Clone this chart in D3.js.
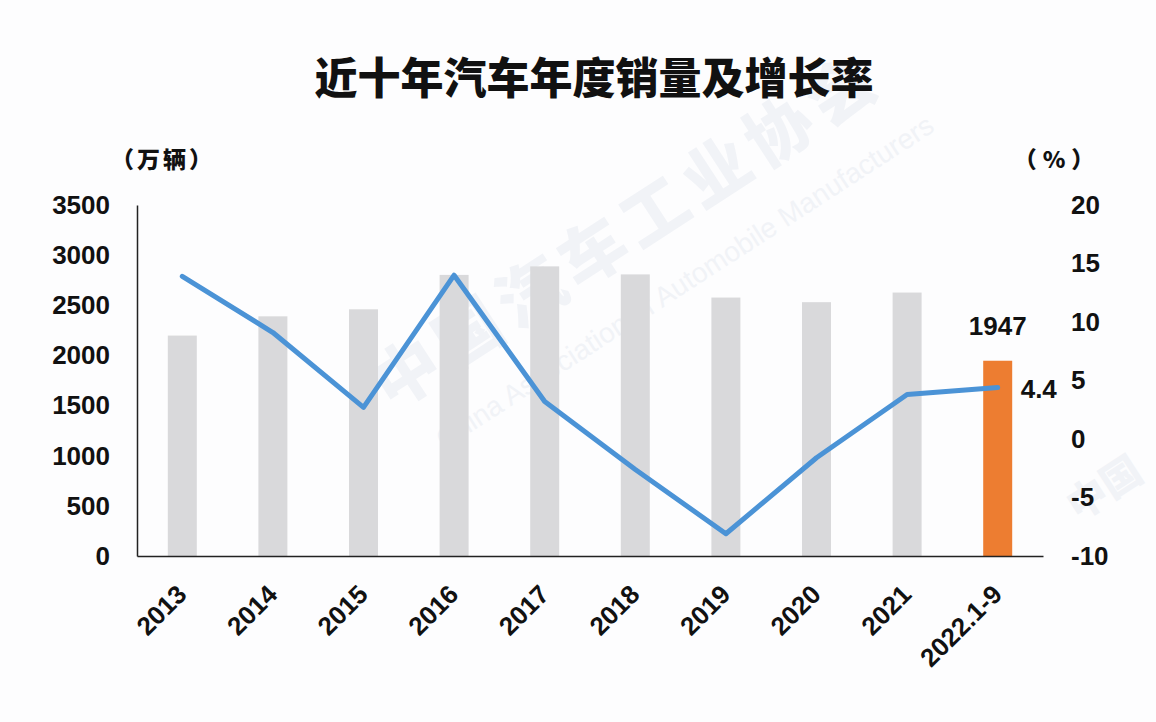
<!DOCTYPE html>
<html>
<head>
<meta charset="utf-8">
<script src="https://cdn.jsdelivr.net/npm/d3@7"></script>
<style>
  html, body { margin: 0; padding: 0; background: #fdfdfe; }
  svg { display: block; }
</style>
</head>
<body>
<svg id="chart" width="1156" height="722"></svg>
<script>
// ---- data ----
const categories = ["2013", "2014", "2015", "2016", "2017", "2018", "2019", "2020", "2021", "2022.1-9"];
const sales = [2198, 2390, 2460, 2803, 2888, 2808, 2577, 2531, 2627, 1947];   // 万辆
const growth = [13.9, 9.1, 2.7, 14.0, 3.2, -2.6, -8.1, -1.6, 3.8, 4.4];       // %
const leftTicks = [0, 500, 1000, 1500, 2000, 2500, 3000, 3500];
const rightTicks = [-10, -5, 0, 5, 10, 15, 20];
const title = "近十年汽车年度销量及增长率";
const leftUnit = "（万辆）";
const rightUnit = "（%）";
const highlightLabel = "1947";
const growthLabel = "4.4";

// ---- layout ----
const svg = d3.select("#chart");
const plot = { left: 137, right: 1043, top: 205, bottom: 556 };
const fontNum = "'Liberation Sans', Arial, sans-serif";
const fontCJK = "'Noto Sans CJK SC', sans-serif";

const x = d3.scaleBand().domain(categories).range([plot.left, plot.right]).paddingInner(0.68).paddingOuter(0.34);
const yL = d3.scaleLinear().domain([0, 3500]).range([plot.bottom, plot.top]);
const yR = d3.scaleLinear().domain([-10, 20]).range([plot.bottom, plot.top]);
const plain = d => String(d);

// ---- watermark (faint) ----
const wm = svg.append("g").attr("fill", "#f1f3f7").attr("font-family", fontCJK).attr("font-weight", 900);
wm.append("text").attr("transform", "translate(640,250) rotate(-33)").attr("text-anchor", "middle")
  .attr("font-size", 66).attr("letter-spacing", 8).text("中国汽车工业协会");
wm.append("text").attr("transform", "translate(690,290) rotate(-33)").attr("text-anchor", "middle")
  .attr("font-family", fontNum).attr("font-weight", 400)
  .attr("font-size", 28).text("China Association of Automobile Manufacturers");
wm.append("text").attr("transform", "translate(1112,500) rotate(-33)").attr("text-anchor", "middle")
  .attr("font-size", 40).text("中国");

// ---- bars ----
svg.append("g").selectAll("rect").data(categories).join("rect")
  .attr("x", d => x(d))
  .attr("width", x.bandwidth())
  .attr("y", (d, i) => yL(sales[i]))
  .attr("height", (d, i) => yL(0) - yL(sales[i]))
  .attr("fill", (d, i) => i === categories.length - 1 ? "#ed7d31" : "#d9d9db");

// ---- axes ----
const axisL = d3.axisLeft(yL).tickValues(leftTicks).tickFormat(plain).tickSize(0).tickPadding(0);
const gL = svg.append("g").attr("transform", `translate(${plot.left},0)`).call(axisL);
gL.select(".domain").attr("stroke", "#222").attr("stroke-width", 1.5);
gL.selectAll("text").attr("x", 110 - plot.left).attr("text-anchor", "end")
  .attr("font-family", fontNum).attr("font-weight", "bold").attr("font-size", 26).attr("fill", "#111");

const axisR = d3.axisRight(yR).tickValues(rightTicks).tickFormat(plain).tickSize(0).tickPadding(0);
const gR = svg.append("g").attr("transform", `translate(${plot.right},0)`).call(axisR);
gR.select(".domain").remove();
gR.selectAll("text").attr("x", 1071 - plot.right).attr("text-anchor", "start")
  .attr("font-family", fontNum).attr("font-weight", "bold").attr("font-size", 26).attr("fill", "#111");

const axisB = d3.axisBottom(x).tickSize(0).tickPadding(0);
const gB = svg.append("g").attr("transform", `translate(0,${plot.bottom})`).call(axisB);
gB.select(".domain").attr("stroke", "#222").attr("stroke-width", 1.5);
gB.selectAll("text")
  .attr("text-anchor", "end")
  .attr("dy", null).attr("y", null)
  .attr("transform", "translate(6,40) rotate(-45)")
  .attr("font-family", fontNum).attr("font-weight", "bold").attr("font-size", 26).attr("fill", "#111");

// ---- growth line ----
const line = d3.line()
  .x((d, i) => x(categories[i]) + x.bandwidth() / 2)
  .y(d => yR(d));
svg.append("path").datum(growth)
  .attr("d", line)
  .attr("fill", "none")
  .attr("stroke", "#4b93d6")
  .attr("stroke-width", 5)
  .attr("stroke-linejoin", "round")
  .attr("stroke-linecap", "round");

// ---- data labels ----
const last = categories.length - 1;
svg.append("text")
  .attr("x", x(categories[last]) + x.bandwidth() / 2)
  .attr("y", yL(sales[last]) - 26)
  .attr("text-anchor", "middle")
  .attr("font-family", fontNum).attr("font-weight", "bold").attr("font-size", 26).attr("fill", "#111")
  .text(highlightLabel);
svg.append("text")
  .attr("x", x(categories[last]) + x.bandwidth() / 2 + 23)
  .attr("y", yR(growth[last]) + 1)
  .attr("dominant-baseline", "central")
  .attr("text-anchor", "start")
  .attr("font-family", fontNum).attr("font-weight", "bold").attr("font-size", 26).attr("fill", "#111")
  .text(growthLabel);

// ---- titles / units ----
svg.append("text")
  .attr("x", 594).attr("y", 75)
  .attr("text-anchor", "middle").attr("dominant-baseline", "central")
  .attr("font-family", fontCJK).attr("font-weight", 900).attr("font-size", 43).attr("fill", "#111")
  .text(title);
svg.append("text")
  .attr("x", 163).attr("y", 158)
  .attr("text-anchor", "middle").attr("dominant-baseline", "central")
  .attr("font-family", fontCJK).attr("font-weight", 900).attr("font-size", 23).attr("letter-spacing", 3).attr("fill", "#111")
  .text(leftUnit);
svg.append("text")
  .attr("x", 1057).attr("y", 158)
  .attr("text-anchor", "middle").attr("dominant-baseline", "central")
  .attr("font-family", fontCJK).attr("font-weight", 900).attr("font-size", 23).attr("letter-spacing", 6).attr("fill", "#111")
  .text(rightUnit);
</script>
</body>
</html>
